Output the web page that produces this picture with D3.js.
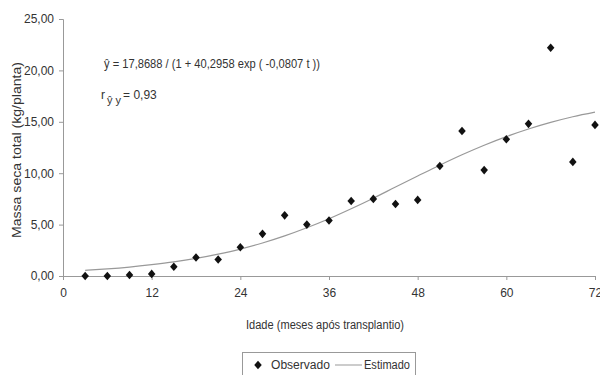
<!DOCTYPE html>
<html>
<head>
<meta charset="utf-8">
<script src="https://cdn.jsdelivr.net/npm/d3@7"></script>
<style>
  body { margin: 0; background: #fff; }
  text { font-family: "Liberation Sans", Arial, sans-serif; fill: #333; }
</style>
</head>
<body>
<div id="chart"></div>
<script>
// observed points (months after transplant, kg/plant)
var months = [3, 6, 9, 12, 15, 18, 21, 24, 27, 30, 33, 36, 39, 42, 45, 48, 51, 54, 57, 60, 63, 66, 69, 72];
var observed = [0.0, 0.0, 0.1, 0.2, 0.9, 1.8, 1.6, 2.8, 4.1, 5.9, 5.0, 5.4, 7.3, 7.5, 7.0, 7.4, 10.7, 14.1, 10.3, 13.3, 14.8, 22.2, 11.1, 14.7];
// fitted curve values at the same months
var estimated = [0.55, 0.69, 0.87, 1.10, 1.37, 1.71, 2.13, 2.62, 3.21, 3.90, 4.69, 5.57, 6.54, 7.57, 8.65, 9.72, 10.78, 11.79, 12.72, 13.56, 14.30, 14.94, 15.49, 15.94];
var xTicks = [0, 12, 24, 36, 48, 60, 72];
var yTicks = [0, 5, 10, 15, 20, 25];

var width = 600, height = 375;
var margin = {top: 19, right: 5, bottom: 99, left: 63};

var svg = d3.select("#chart").append("svg")
    .attr("width", width)
    .attr("height", height);

var x = d3.scaleLinear().domain([0, 72]).range([margin.left, width - margin.right]);
var y = d3.scaleLinear().domain([0, 25]).range([height - margin.bottom, margin.top]);

var fmt = function(d) { return d3.format(".2f")(d).replace(".", ","); };

// axes
var yAxis = svg.append("g")
    .attr("transform", "translate(" + margin.left + ",0)")
    .call(d3.axisLeft(y).tickValues(yTicks).tickFormat(fmt).tickSize(4).tickPadding(5));
var xAxis = svg.append("g")
    .attr("transform", "translate(0," + y(0) + ")")
    .call(d3.axisBottom(x).tickValues(xTicks).tickSize(4).tickPadding(8));

[xAxis, yAxis].forEach(function(a) {
  a.select(".domain").attr("stroke", "#999");
  a.selectAll(".tick line").attr("stroke", "#999");
  a.selectAll("text").style("font-size", "12px").attr("fill", "#444");
});

// fitted line
var pts = months.map(function(m, i) { return [m, estimated[i]]; });
svg.append("path")
    .datum(pts)
    .attr("fill", "none")
    .attr("stroke", "#999")
    .attr("stroke-width", 1.2)
    .attr("d", d3.line()
      .x(function(d) { return x(d[0]); })
      .y(function(d) { return y(d[1]); })
      .curve(d3.curveMonotoneX));

// observed diamonds
var diamond = d3.symbol().type(d3.symbolDiamond2).size(36);
svg.append("g")
  .selectAll("path")
  .data(months)
  .enter()
  .append("path")
    .attr("d", diamond)
    .attr("fill", "#111")
    .attr("transform", function(d, i) { return "translate(" + x(d) + "," + y(observed[i]) + ") scale(1,1.15)"; });

// axis titles
svg.append("text")
    .attr("transform", "translate(21,150) rotate(-90)")
    .attr("text-anchor", "middle")
    .attr("textLength", 176)
    .attr("lengthAdjust", "spacingAndGlyphs")
    .style("font-size", "12px")
    .text("Massa seca total (kg/planta)");

svg.append("text")
    .attr("x", 246)
    .attr("y", 329)
    .attr("textLength", 158)
    .attr("lengthAdjust", "spacingAndGlyphs")
    .style("font-size", "12px")
    .text("Idade (meses após transplantio)");

// equation and correlation
svg.append("text")
    .attr("x", 104)
    .attr("y", 68)
    .attr("textLength", 216)
    .attr("lengthAdjust", "spacingAndGlyphs")
    .style("font-size", "12px")
    .text("ŷ = 17,8688 / (1 + 40,2958 exp ( -0,0807 t ))");

var r = svg.append("text")
    .attr("x", 101)
    .attr("y", 99)
    .style("font-size", "12px");
r.append("tspan").text("r");
r.append("tspan").attr("dx", 2).attr("dy", 5).style("font-size", "11px").text("ŷ y");
r.append("tspan").attr("dx", 2).attr("dy", -5).text("= 0,93");

// legend
var lg = svg.append("g");
lg.append("rect")
    .attr("x", 242.5).attr("y", 352.5)
    .attr("width", 173).attr("height", 30)
    .attr("fill", "#fff")
    .attr("stroke", "#999");
lg.append("path")
    .attr("d", diamond)
    .attr("fill", "#111")
    .attr("transform", "translate(258,365) scale(1,1.15)");
lg.append("text")
    .attr("x", 271).attr("y", 369)
    .attr("textLength", 59)
    .attr("lengthAdjust", "spacingAndGlyphs")
    .style("font-size", "12px")
    .text("Observado");
lg.append("line")
    .attr("x1", 335).attr("x2", 362)
    .attr("y1", 365).attr("y2", 365)
    .attr("stroke", "#999");
lg.append("text")
    .attr("x", 364).attr("y", 369)
    .attr("textLength", 46)
    .attr("lengthAdjust", "spacingAndGlyphs")
    .style("font-size", "12px")
    .text("Estimado");
</script>
</body>
</html>
